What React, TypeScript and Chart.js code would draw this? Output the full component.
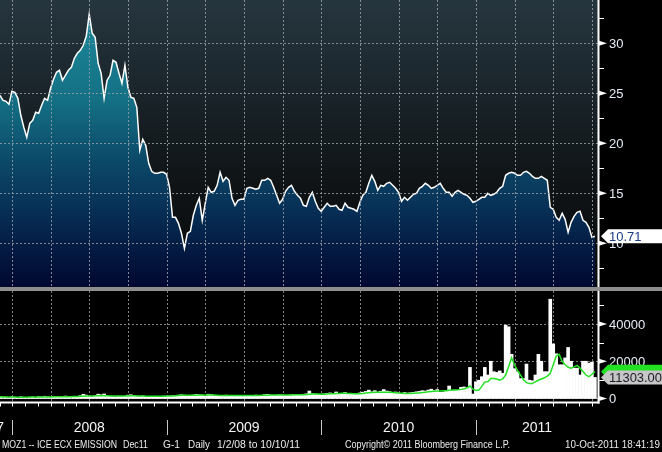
import React, { useEffect, useRef } from "react";
import { Chart, registerables } from "chart.js";

Chart.register(...registerables);

const START_YEAR = 2007.9224;
const WEEKS_PER_YEAR = 52;
const X_MIN = 2007.9224;
const X_MAX = 2011.7887;

// Weekly closes, ICE ECX EUA Dec11 (EUR/t)
const priceValues = [
  24.8, 24.3, 24.2, 23.9, 25.2, 25.1, 24.5, 22.8, 21.6, 20.6,
  22.0, 22.3, 23.1, 23.0, 23.8, 24.5, 24.3, 25.5, 26.4, 27.1,
  27.3, 26.3, 26.8, 27.3, 27.6, 28.5, 29.0, 29.3, 29.8, 30.7,
  32.9, 31.0, 30.6, 28.0, 27.0, 24.5, 26.3, 26.8, 28.3, 28.1,
  27.0, 26.0, 27.8, 25.6, 24.6, 24.5, 23.6, 19.3, 20.4, 19.8,
  18.0, 17.2, 17.0, 17.0, 17.1, 17.1, 16.9, 15.6, 12.6, 12.6,
  12.0, 11.0, 9.5, 11.0, 11.2, 12.8, 13.8, 14.5, 12.3, 14.0,
  15.6, 15.1, 15.2, 15.8, 17.1, 16.2, 16.6, 16.3, 14.5, 13.8,
  14.3, 14.4, 14.4, 15.5, 15.6, 15.5, 15.4, 15.5, 16.3, 16.3,
  16.5, 16.3, 15.6, 14.8, 14.0, 14.4, 15.2, 15.6, 15.8, 15.2,
  14.8, 14.5, 13.8, 13.7, 14.6, 15.1, 14.2, 13.5, 13.2, 13.6,
  14.0, 13.7, 13.7, 13.8, 13.4, 13.3, 14.0, 13.6, 13.5, 13.4,
  13.2, 14.1, 14.8, 15.1, 16.0, 16.8, 16.2, 15.3, 15.8, 15.7,
  16.0, 16.1, 15.8, 15.5, 15.1, 14.2, 14.6, 14.3, 14.6, 14.9,
  15.0, 15.5, 15.7, 16.0, 15.8, 15.5, 15.6, 15.8, 16.0, 15.5,
  15.1, 15.1, 14.7, 15.1, 15.3, 15.1, 14.9, 14.8, 14.5, 14.1,
  14.2, 14.4, 14.6, 14.6, 15.0, 14.8, 14.9, 15.1, 15.5, 15.7,
  16.8, 17.0, 17.1, 17.0, 16.8, 16.8, 17.1, 17.2, 17.0, 16.7,
  16.5, 16.5, 16.7, 16.5, 16.3, 13.6, 13.4, 12.6, 12.3, 13.0,
  12.4, 11.1, 12.1, 12.7, 13.1, 13.2, 12.3, 12.1, 11.6, 10.6,
  10.71,
];

const volumeValues = [
  600, 500, 700, 400, 800, 600, 500, 900, 700, 600, 500, 800, 700,
  1000, 800, 1200, 900, 700, 1100, 1000, 900, 800, 1300, 1000, 1200, 900, 1100,
  1500, 2200, 1800, 1200, 1000, 1300, 2300, 2000, 2400, 1500, 1200, 1000, 900, 1100,
  1000, 1200, 1800, 2000, 1700, 1300, 1100, 1400, 1200, 1000, 900, 1200, 1000, 1100, 1300, 1200,
  1300, 1500, 1700, 1800, 2000, 1800, 1600, 1500, 1900, 2200, 2000, 1800, 1700, 2300, 2100, 1600,
  1500, 1400, 1600, 1800, 1700, 1500, 1400, 1600,
  1500, 1700, 1600, 1400, 1500, 1800, 1700, 1600, 2100, 2200, 1900, 1700, 1800, 2000, 1900, 1700,
  1800, 2000, 2200, 2100, 1900, 2300, 2500, 4000, 2600, 2400, 2200, 2300,
  2500, 2800, 3000, 2600, 3500, 2500, 2800, 3200, 2400, 2700, 2600, 2200, 3000, 3400, 3800, 4500,
  3600, 4200, 3500, 3900, 4800, 4000, 3700, 3300, 3500, 3000, 2800, 3200, 2900, 3100, 3300, 3600,
  3800, 4200, 4000, 4500, 5000,
  4300, 4800, 3300, 3500, 4000, 6700, 4300, 4500, 4400, 6000, 6200, 5800, 16700, 2400, 9000, 9800,
  11700, 16700, 12600, 20000, 14400, 14000, 14800, 13500, 39400, 38500, 23700, 16000, 14400, 10700,
  10700, 18500, 9800, 9500, 12600, 23700, 20000, 14400, 14400, 53300, 29300, 24000, 18100, 18100,
  21800, 27400, 20000, 16300, 16300, 12600, 20000, 20000, 19000, 19500, 11303,
];

const volumeAverage = [
  900, 900, 850, 800, 800, 750, 700, 700, 700, 700, 750, 750, 700,
  750, 800, 800, 850, 850, 900, 900, 950, 950, 1000, 1000, 1000, 1050, 1100,
  1150, 1200, 1300, 1350, 1400, 1450, 1500, 1550, 1500, 1450, 1400, 1350, 1300, 1300,
  1300, 1350, 1400, 1450, 1450, 1400, 1350, 1300, 1250, 1200, 1150, 1150, 1200, 1200, 1250, 1300,
  1350, 1400, 1500, 1600, 1700, 1750, 1750, 1700, 1750, 1800, 1850, 1850, 1800, 1850, 1900, 1850,
  1750, 1650, 1600, 1600, 1650, 1600, 1550, 1550,
  1550, 1550, 1550, 1550, 1550, 1600, 1650, 1700, 1750, 1800, 1850, 1850, 1850, 1850, 1850, 1850,
  1850, 1900, 1950, 2000, 2000, 2050, 2100, 2300, 2400, 2400, 2350, 2300,
  2300, 2400, 2500, 2600, 2700, 2700, 2800, 2800, 2700, 2700, 2600, 2600, 2600, 2700, 2900, 3100,
  3200, 3300, 3300, 3300, 3400, 3400, 3300, 3200, 3100, 2900, 2800, 2700, 2700, 2700, 2800, 2900,
  3000, 3200, 3400, 3600, 3800,
  3900, 4000, 4000, 4100, 4200, 4400, 4500, 4600, 4700, 4900,
  5200, 5700, 6700, 5000, 4300, 4500, 6500, 8900, 9000, 10700,
  10700, 10500, 9800, 10500, 12600, 17200, 21800, 18000, 15000, 12600,
  10000, 8500, 8000, 8000, 9000, 9800, 10500, 11100, 12000, 13500,
  18100, 22800, 23700, 20000, 18100, 16800, 16300, 17000, 17800, 16300,
  14500, 12600, 11700, 13000, 14400,
];

const priceTicks = [10, 15, 20, 25, 30];
const priceMinorTicks = [7.5, 12.5, 17.5, 22.5, 27.5, 32.5];
const volumeTicks = [0, 20000, 40000];
const volumeMinorTicks = [10000, 30000, 50000];
const quarterTicks = [
  2008, 2008.25, 2008.5, 2008.75, 2009, 2009.25, 2009.5, 2009.75,
  2010, 2010.25, 2010.5, 2010.75, 2011, 2011.25, 2011.5, 2011.75,
];
const yearLabels = ["2007", "2008", "2009", "2010", "2011"];
const yearStarts = [2007, 2008, 2009, 2010, 2011];
const lastPrice = 10.71;
const lastPriceLabel = "10.71";
const lastVolume = 11303.0;
const lastVolumeLabel = "11303.00";
const lastAverage = 14400;
const footerSegments = ["MOZ1 -- ICE ECX EMISSION", "Dec11", "G-1", "Daily", "1/2/08 to 10/10/11"];
const copyrightText = "Copyright\u00A9 2011 Bloomberg Finance L.P.";
const timestampText = "10-Oct-2011 18:41:19";

const FONT = '"Liberation Sans", Arial, sans-serif';
const weekX = (i: number) => START_YEAR + i / WEEKS_PER_YEAR;

function drawTriangle(ctx: CanvasRenderingContext2D, x: number, y: number) {
  ctx.beginPath();
  ctx.moveTo(x, y - 2.5);
  ctx.lineTo(x, y + 2.5);
  ctx.lineTo(x + 8, y);
  ctx.closePath();
  ctx.fillStyle = "#ffffff";
  ctx.fill();
}

function drawValueBox(
  ctx: CanvasRenderingContext2D,
  axisX: number,
  py: number,
  right: number,
  fill: string,
  text: string,
  textColor: string
) {
  ctx.beginPath();
  ctx.moveTo(axisX + 3, py);
  ctx.lineTo(axisX + 10, py - 7);
  ctx.lineTo(right, py - 7);
  ctx.lineTo(right, py + 7);
  ctx.lineTo(axisX + 10, py + 7);
  ctx.closePath();
  ctx.fillStyle = fill;
  ctx.fill();
  if (text) {
    ctx.fillStyle = textColor;
    ctx.font = `13px ${FONT}`;
    ctx.textAlign = "left";
    ctx.textBaseline = "middle";
    ctx.fillText(text, axisX + 11, py + 1, right - axisX - 11);
  }
}

function drawGrid(chart: any, yTicks: number[], color: string) {
  const { ctx, chartArea: a } = chart;
  const xs = chart.scales.x;
  const ys = chart.scales.y;
  ctx.save();
  ctx.strokeStyle = color;
  ctx.lineWidth = 1;
  ctx.setLineDash([2, 2]);
  ctx.beginPath();
  for (const v of quarterTicks) {
    const px = Math.round(xs.getPixelForValue(v)) + 0.5;
    if (px < a.left || px > a.right) continue;
    ctx.moveTo(px, a.top);
    ctx.lineTo(px, a.bottom);
  }
  for (const v of yTicks) {
    const py = Math.round(ys.getPixelForValue(v)) + 0.5;
    ctx.moveTo(a.left, py);
    ctx.lineTo(a.right, py);
  }
  ctx.stroke();
  ctx.restore();
}

function drawAxisDecor(chart: any, major: number[], minor: number[]) {
  const { ctx, chartArea: a } = chart;
  const y = chart.scales.y;
  ctx.save();
  ctx.fillStyle = "#ffffff";
  for (const v of minor) {
    const py = Math.round(y.getPixelForValue(v));
    ctx.fillRect(a.right + 1, py, 5, 1);
  }
  for (const v of major) {
    drawTriangle(ctx, a.right + 1, y.getPixelForValue(v));
  }
  ctx.font = `13px ${FONT}`;
  ctx.fillStyle = "#e6ecf6";
  ctx.textAlign = "left";
  ctx.textBaseline = "middle";
  for (const v of major) {
    ctx.fillText(String(v), a.right + 11, y.getPixelForValue(v) + 1);
  }
  ctx.restore();
}

const topPlugin = {
  id: "topDecor",
  beforeDraw(chart: any) {
    const { ctx, chartArea: a, width, height } = chart;
    ctx.save();
    ctx.fillStyle = "#000000";
    ctx.fillRect(0, 0, width, height);
    const g = ctx.createLinearGradient(0, a.top, 0, a.bottom);
    g.addColorStop(0, "#26363f");
    g.addColorStop(0.4, "#172025");
    g.addColorStop(0.65, "#0f1315");
    g.addColorStop(1, "#0a0c0d");
    ctx.fillStyle = g;
    ctx.fillRect(a.left, a.top, a.right - a.left, a.bottom - a.top);
    ctx.restore();
  },
  afterDatasetsDraw(chart: any) {
    drawGrid(chart, priceTicks, "rgba(150,158,165,0.85)");
  },
  afterDraw(chart: any) {
    const { ctx, chartArea: a } = chart;
    ctx.save();
    ctx.fillStyle = "#ffffff";
    ctx.fillRect(a.right - 0.5, 0, 2, chart.height);
    ctx.restore();
    drawAxisDecor(chart, priceTicks, priceMinorTicks);
    ctx.save();
    drawValueBox(ctx, a.right, chart.scales.y.getPixelForValue(lastPrice), chart.width, "#ffffff", lastPriceLabel, "#173c82");
    ctx.restore();
  },
};

const bottomPlugin = {
  id: "bottomDecor",
  beforeDraw(chart: any) {
    const { ctx, width, height } = chart;
    ctx.save();
    ctx.fillStyle = "#000000";
    ctx.fillRect(0, 0, width, height);
    ctx.restore();
  },
  beforeDatasetsDraw(chart: any) {
    drawGrid(chart, volumeTicks, "rgba(150,150,150,0.85)");
  },
  afterDraw(chart: any) {
    const { ctx, chartArea: a } = chart;
    const xs = chart.scales.x;
    const ys = chart.scales.y;
    ctx.save();
    ctx.fillStyle = "#ffffff";
    ctx.fillRect(a.right - 0.5, 0, 2, a.bottom + 1.5);
    ctx.fillRect(0, a.bottom - 0.5, a.right + 1.5, 2);
    // month ticks
    for (let m = -1; m < 48; m++) {
      const px = Math.round(xs.getPixelForValue(2008 + m / 12));
      if (px < a.left - 1 || px > a.right) continue;
      ctx.fillRect(Math.max(px, 0), a.bottom + 1, 1, 3.5);
    }
    // year separators
    ctx.fillStyle = "#c8c8c8";
    for (const s of yearStarts) {
      const px = Math.round(xs.getPixelForValue(s));
      if (px <= a.left || px >= a.right) continue;
      ctx.fillRect(px, a.bottom + 18, 1, 15);
    }
    // year labels
    ctx.font = `14px ${FONT}`;
    ctx.fillStyle = "#f4f4f4";
    ctx.textBaseline = "middle";
    for (let k = 0; k < yearStarts.length; k++) {
      const x0 = Math.max(xs.getPixelForValue(yearStarts[k]), a.left);
      const x1 = Math.min(xs.getPixelForValue(yearStarts[k] + 1), a.right);
      if (x1 <= x0) continue;
      const w = ctx.measureText(yearLabels[k]).width;
      if (x1 - x0 >= w + 8) {
        ctx.textAlign = "center";
        ctx.fillText(yearLabels[k], (x0 + x1) / 2, a.bottom + 26);
      } else {
        ctx.textAlign = "right";
        ctx.fillText(yearLabels[k], x1 - 8, a.bottom + 26);
      }
    }
    // footer
    ctx.font = `11px ${FONT}`;
    ctx.fillStyle = "#ececec";
    ctx.textAlign = "left";
    const fx = [2, 123, 163, 188, 217];
    const fw = [115, 25, 17, 22, 83];
    const fy = a.bottom + 43;
    footerSegments.forEach((t, i) => ctx.fillText(t, fx[i], fy, fw[i]));
    ctx.fillText(copyrightText, 345, fy, 165);
    ctx.fillText(timestampText, 565, fy, 95);
    ctx.restore();

    drawAxisDecor(chart, volumeTicks, volumeMinorTicks);
    ctx.save();
    drawValueBox(ctx, a.right, ys.getPixelForValue(lastAverage), chart.width, "#22e022", "", "");
    drawValueBox(ctx, a.right, ys.getPixelForValue(lastVolume), chart.width, "#c6c6c6", lastVolumeLabel, "#1a1a28");
    ctx.restore();
  },
};

const xAxis = {
  type: "linear" as const,
  display: false,
  offset: false,
  min: X_MIN,
  max: X_MAX,
};

const yAxisBase = {
  position: "right" as const,
  display: true,
  afterFit: (s: any) => {
    s.width = 64;
  },
  ticks: { display: false },
  grid: { display: false, drawTicks: false },
  border: { display: false },
};

export default function App() {
  const topRef = useRef<HTMLCanvasElement | null>(null);
  const bottomRef = useRef<HTMLCanvasElement | null>(null);

  useEffect(() => {
    document.body.style.margin = "0";
    document.body.style.background = "#000";
    const top = new Chart(topRef.current as HTMLCanvasElement, {
      type: "line",
      data: {
        datasets: [
          {
            data: priceValues.map((v, i) => ({ x: weekX(i), y: v })),
            borderColor: "#ffffff",
            borderWidth: 1.5,
            pointRadius: 0,
            tension: 0,
            fill: "start",
            backgroundColor: (c: any) => {
              const a = c.chart.chartArea;
              if (!a) return "#0a3a5a";
              const g = c.chart.ctx.createLinearGradient(0, a.top, 0, a.bottom);
              g.addColorStop(0, "#1e8c9e");
              g.addColorStop(0.35, "#147084");
              g.addColorStop(0.55, "#0c4b6a");
              g.addColorStop(0.7, "#08345a");
              g.addColorStop(0.85, "#041d45");
              g.addColorStop(1, "#010830");
              return g;
            },
          },
        ],
      },
      options: {
        animation: false,
        responsive: false,
        maintainAspectRatio: false,
        devicePixelRatio: 1,
        layout: { padding: 0 },
        plugins: { legend: { display: false }, tooltip: { enabled: false } },
        scales: {
          x: xAxis as any,
          y: { ...yAxisBase, min: 5.63, max: 34.33 } as any,
        },
      },
      plugins: [topPlugin],
    });

    const bottom = new Chart(bottomRef.current as HTMLCanvasElement, {
      type: "bar",
      data: {
        datasets: [
          {
            type: "line",
            data: volumeAverage.map((v, i) => ({ x: weekX(i), y: v })),
            borderColor: "#22e022",
            borderWidth: 1.5,
            pointRadius: 0,
            tension: 0,
            fill: false,
            order: 0,
          } as any,
          {
            type: "bar",
            data: volumeValues.map((v, i) => ({ x: weekX(i), y: v })),
            backgroundColor: "#ffffff",
            barPercentage: 1,
            categoryPercentage: 1,
            order: 1,
          } as any,
        ],
      },
      options: {
        animation: false,
        responsive: false,
        maintainAspectRatio: false,
        devicePixelRatio: 1,
        layout: { padding: { top: 0, left: 0, right: 0, bottom: 50 } },
        plugins: { legend: { display: false }, tooltip: { enabled: false } },
        scales: {
          x: xAxis as any,
          y: { ...yAxisBase, min: -1880, max: 57720 } as any,
        },
      },
      plugins: [bottomPlugin],
    });

    return () => {
      top.destroy();
      bottom.destroy();
    };
  }, []);

  return (
    <div style={{ position: "absolute", left: 0, top: 0, width: 662, height: 452, background: "#000" }}>
      <canvas ref={topRef} width={662} height={287} style={{ display: "block" }} />
      <div style={{ height: 4, background: "#8e8e8e" }} />
      <canvas ref={bottomRef} width={662} height={161} style={{ display: "block" }} />
    </div>
  );
}
